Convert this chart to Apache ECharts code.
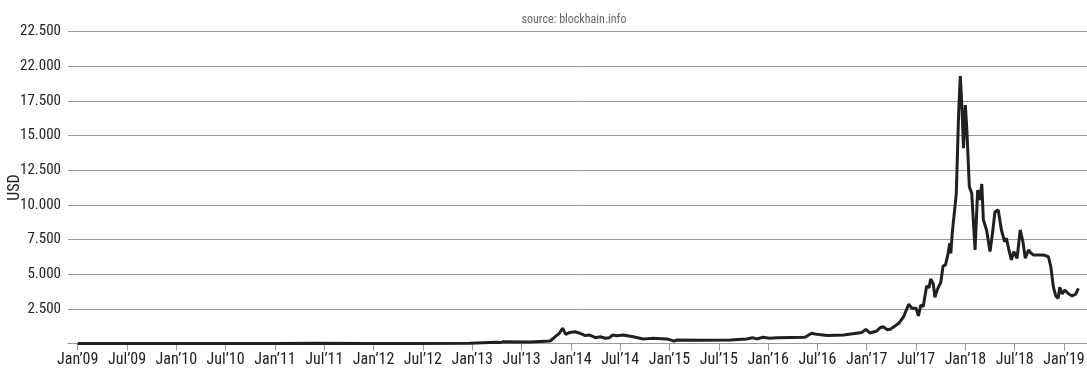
<!DOCTYPE html>
<html>
<head>
<meta charset="utf-8">
<script src="https://cdn.jsdelivr.net/npm/echarts@6/dist/echarts.min.js"></script>
<style>
  html, body { margin: 0; padding: 0; background: #fff; }
  #chart { width: 1087px; height: 372px; }
</style>
</head>
<body>
<div id="chart"></div>
<script>
// bitcoin price
var dates = [
  '2009-01-01','2010-07-01','2011-01-01','2011-06-10','2011-12-01','2012-06-01','2012-12-22',
  '2013-04-01','2013-04-07','2013-04-16','2013-04-25','2013-08-01','2013-10-16','2013-11-04',
  '2013-11-19','2013-12-01','2013-12-13','2013-12-28','2014-01-16','2014-02-04','2014-02-22',
  '2014-03-10','2014-04-01','2014-04-19','2014-05-07','2014-05-22','2014-06-04','2014-06-19',
  '2014-07-13','2014-08-19','2014-09-25','2014-10-28','2014-12-22','2015-01-04','2015-01-19',
  '2015-01-28','2015-05-04','2015-08-13','2015-10-13','2015-11-04','2015-11-19','2015-12-13',
  '2016-01-07','2016-02-04','2016-05-16','2016-06-10','2016-06-28','2016-08-07','2016-10-07',
  '2016-12-13','2016-12-29','2017-01-13','2017-02-07','2017-02-19','2017-03-01','2017-03-16',
  '2017-03-28','2017-04-10','2017-04-28','2017-05-16','2017-06-04','2017-06-16','2017-07-01',
  '2017-07-10','2017-07-19','2017-07-28','2017-08-10','2017-08-19','2017-08-25','2017-09-04',
  '2017-09-10','2017-09-19','2017-10-01','2017-10-10','2017-10-19','2017-10-28','2017-11-04',
  '2017-11-08','2017-11-13','2017-11-19','2017-11-28','2017-12-07','2017-12-13','2017-12-19',
  '2017-12-25','2018-01-01','2018-01-07','2018-01-16','2018-01-25','2018-02-06','2018-02-15',
  '2018-02-22','2018-03-01','2018-03-07','2018-03-13','2018-03-19','2018-04-01','2018-04-10',
  '2018-04-19','2018-05-01','2018-05-13','2018-05-25','2018-06-01','2018-06-10','2018-06-19',
  '2018-06-28','2018-07-10','2018-07-22','2018-08-01','2018-08-10','2018-08-22','2018-09-01',
  '2018-09-10','2018-09-28','2018-10-16','2018-11-04','2018-11-13','2018-11-22','2018-12-01',
  '2018-12-10','2018-12-16','2018-12-25','2019-01-04','2019-01-19','2019-02-01','2019-02-13',
  '2019-02-22'
];
var usd = [
  0,0.07,0.3,20,3,6,13,
  90,200,80,120,100,180,490,
  736,1100,660,800,850,740,570,
  610,420,490,380,420,610,560,
  610,490,330,370,320,260,170,
  250,240,250,320,420,330,450,
  380,410,450,740,660,570,610,
  800,1020,760,900,1140,1210,1000,
  1030,1210,1460,1930,2830,2540,2540,
  1990,2780,2660,4150,4030,4650,4290,
  3330,3910,4390,5590,5670,6390,7230,
  6510,7950,8070,10840,16850,19300,17090,
  14090,17210,15290,11320,10840,6750,11080,
  10360,11510,8910,9040,8190,6630,7950,
  9510,9640,8190,7350,7590,6750,6030,
  6630,6150,8190,7350,6150,6750,6510,
  6390,6390,6390,6260,5540,4100,3430,
  3260,4060,3570,3860,3570,3430,3570,
  3980
];
var xTickLabels = ['Jan’09','Jul’09','Jan’10','Jul’10','Jan’11','Jul’11','Jan’12','Jul’12',
  'Jan’13','Jul’13','Jan’14','Jul’14','Jan’15','Jul’15','Jan’16','Jul’16',
  'Jan’17','Jul’17','Jan’18','Jul’18','Jan’19'];
var yTickLabels = ['','2.500','5.000','7.500','10.000','12.500','15.000','17.500','22.000','22.500'];

var FONT = "'Roboto Condensed','DejaVu Sans Condensed',sans-serif";

// months since Jan 2009, fractional
function toMonths(s){
    var p = s.split('-'), y = +p[0], m = +p[1], d = +p[2];
    var dim = new Date(y, m, 0).getDate();
    return (y - 2009) * 12 + (m - 1) + (d - 1) / dim;
}

var points = [];
for (var i = 0; i < dates.length; i++) {
    points.push([toMonths(dates[i]), usd[i]]);
}
var tickVals = [];
for (var k = 0; k < xTickLabels.length; k++) tickVals.push(k * 6);

var myChart = echarts.init(document.getElementById('chart'));
var option = {
    animation: false,
    title: {
        text: 'source: blockhain.info',
        left: 569,
        top: 9,
        textAlign: 'center',
        textStyle: { color: '#666', fontSize: 12, fontWeight: 'normal', fontFamily: FONT }
    },
    grid: { left: 68, right: 0, top: 31.7, bottom: 28.5, containLabel: false, outerBoundsMode: 'none' },
    xAxis: {
        type: 'value',
        min: -1.18,
        max: 122.8,
        axisLine: { show: true, lineStyle: { color: '#999', width: 1 } },
        axisTick: { show: true, customValues: tickVals, length: 7, lineStyle: { color: '#999', width: 1 } },
        axisLabel: {
            customValues: tickVals,
            margin: 8,
            color: '#222',
            fontSize: 16,
            fontFamily: FONT,
            formatter: function (v) { return xTickLabels[Math.round(v / 6)]; }
        },
        splitLine: { show: false }
    },
    yAxis: {
        type: 'value',
        min: 0,
        max: 22500,
        interval: 2500,
        name: 'USD',
        nameLocation: 'middle',
        nameGap: 45,
        nameRotate: 90,
        nameMoveOverlap: false,
        nameTextStyle: { color: '#222', fontSize: 16, fontFamily: FONT },
        axisLine: { show: false },
        axisTick: { show: false },
        axisLabel: {
            margin: 7,
            color: '#222',
            fontSize: 15,
            fontFamily: FONT,
            formatter: function (v) { return yTickLabels[Math.round(v / 2500)]; }
        },
        splitLine: { lineStyle: { color: '#999', width: 1 } }
    },
    series: [{
        type: 'line',
        data: points,
        showSymbol: false,
        lineStyle: { color: '#231f20', width: 3 },
        z: 3
    }]
};
myChart.setOption(option);
</script>
</body>
</html>
